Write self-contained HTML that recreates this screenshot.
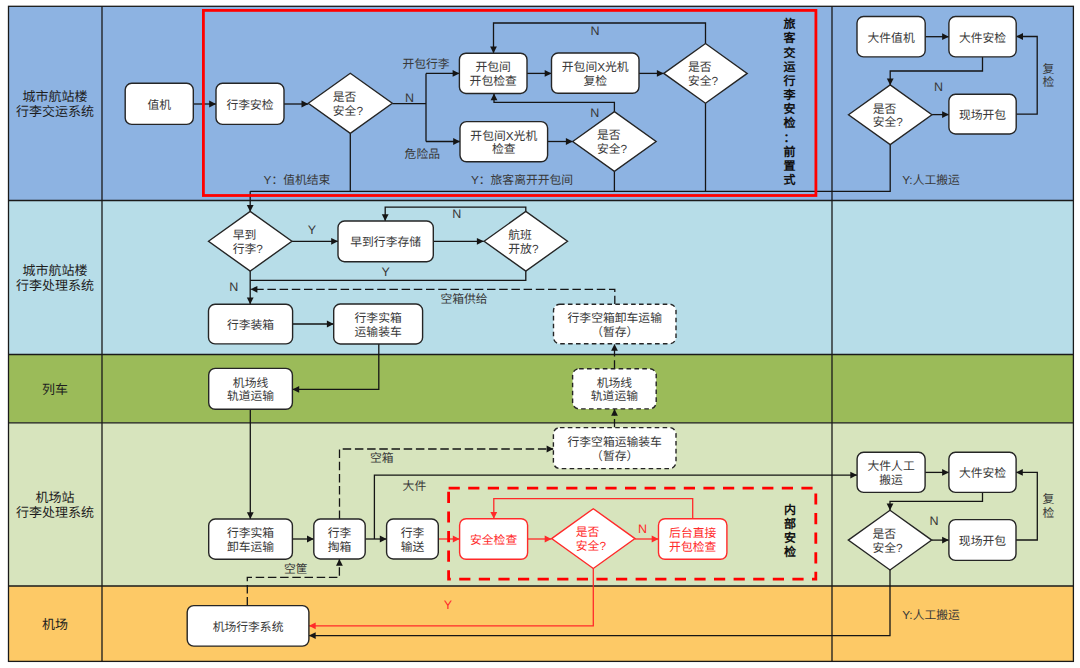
<!DOCTYPE html>
<html lang="zh-CN"><head><meta charset="utf-8"><style>
html,body{margin:0;padding:0;background:#fff;width:1080px;height:668px;overflow:hidden}
svg{display:block;font-family:"Liberation Sans", sans-serif;text-rendering:geometricPrecision}
</style></head><body>
<svg width="1080" height="668" viewBox="0 0 1080 668">
<rect x="8.5" y="6.3" width="1064.9" height="194.2" fill="#8db3e2"/>
<rect x="8.5" y="200.5" width="1064.9" height="154.0" fill="#b7dde8"/>
<rect x="8.5" y="354.5" width="1064.9" height="68.3" fill="#9bbb59"/>
<rect x="8.5" y="422.8" width="1064.9" height="163.2" fill="#d7e4bd"/>
<rect x="8.5" y="586" width="1064.9" height="75.4" fill="#fdc966"/>
<rect x="8.5" y="6.3" width="1064.9" height="655.1" fill="none" stroke="#1a1a1a" stroke-width="1.3"/>
<line x1="102" y1="6.3" x2="102" y2="661.4" stroke="#1a1a1a" stroke-width="1.3"/>
<line x1="832" y1="6.3" x2="832" y2="661.4" stroke="#1a1a1a" stroke-width="1.3"/>
<line x1="8.5" y1="200.5" x2="1073.4" y2="200.5" stroke="#1a1a1a" stroke-width="1.3"/>
<line x1="8.5" y1="354.5" x2="1073.4" y2="354.5" stroke="#1a1a1a" stroke-width="1.3"/>
<line x1="8.5" y1="422.8" x2="1073.4" y2="422.8" stroke="#1a1a1a" stroke-width="1.3"/>
<line x1="8.5" y1="586" x2="1073.4" y2="586" stroke="#1a1a1a" stroke-width="1.3"/>
<path d="M193.3,104 L216,104" fill="none" stroke="#151515" stroke-width="1.3"/>
<path d="M216.00,104.00 L209.20,100.60 L209.20,107.40Z" fill="#151515"/>
<path d="M284,104 L308.3,104" fill="none" stroke="#151515" stroke-width="1.3"/>
<path d="M308.30,104.00 L301.50,100.60 L301.50,107.40Z" fill="#151515"/>
<path d="M392.3,103.6 L426,103.6" fill="none" stroke="#151515" stroke-width="1.3"/>
<path d="M426,73.4 L426,141.5" fill="none" stroke="#151515" stroke-width="1.3"/>
<path d="M426,73.4 L459.4,73.4" fill="none" stroke="#151515" stroke-width="1.3"/>
<path d="M459.40,73.40 L452.60,70.00 L452.60,76.80Z" fill="#151515"/>
<path d="M426,141.5 L460,141.5" fill="none" stroke="#151515" stroke-width="1.3"/>
<path d="M460.00,141.50 L453.20,138.10 L453.20,144.90Z" fill="#151515"/>
<path d="M527,73.4 L551.5,73.4" fill="none" stroke="#151515" stroke-width="1.3"/>
<path d="M551.50,73.40 L544.70,70.00 L544.70,76.80Z" fill="#151515"/>
<path d="M639,73.4 L663.7,73.4" fill="none" stroke="#151515" stroke-width="1.3"/>
<path d="M663.70,73.40 L656.90,70.00 L656.90,76.80Z" fill="#151515"/>
<path d="M705.5,43.6 L705.5,23 L493.5,23 L493.5,53.2" fill="none" stroke="#151515" stroke-width="1.3"/>
<path d="M493.50,53.20 L490.10,46.40 L496.90,46.40Z" fill="#151515"/>
<path d="M547.6,141.5 L572.7,141.5" fill="none" stroke="#151515" stroke-width="1.3"/>
<path d="M572.70,141.50 L565.90,138.10 L565.90,144.90Z" fill="#151515"/>
<path d="M614.4,112 L614.4,102.4 L494,102.4 L494,93.5" fill="none" stroke="#151515" stroke-width="1.3"/>
<path d="M494.00,93.50 L490.60,100.30 L497.40,100.30Z" fill="#151515"/>
<path d="M350.3,133.3 L350.3,191.3" fill="none" stroke="#151515" stroke-width="1.3"/>
<path d="M614.4,171 L614.4,191.3" fill="none" stroke="#151515" stroke-width="1.3"/>
<path d="M705.5,103 L705.5,191.3" fill="none" stroke="#151515" stroke-width="1.3"/>
<path d="M890.2,144.3 L890.2,191.3 L250.2,191.3" fill="none" stroke="#151515" stroke-width="1.3"/>
<path d="M250.2,191.3 L250.2,211.7" fill="none" stroke="#151515" stroke-width="1.3"/>
<path d="M250.20,211.70 L246.80,204.90 L253.60,204.90Z" fill="#151515"/>
<path d="M925.2,36.7 L948.9,36.7" fill="none" stroke="#151515" stroke-width="1.3"/>
<path d="M948.90,36.70 L942.10,33.30 L942.10,40.10Z" fill="#151515"/>
<path d="M982.5,56.9 L982.5,71 L890.2,71 L890.2,85.3" fill="none" stroke="#151515" stroke-width="1.3"/>
<path d="M890.20,85.30 L886.80,78.50 L893.60,78.50Z" fill="#151515"/>
<path d="M931.8,114.6 L948.9,114.6" fill="none" stroke="#151515" stroke-width="1.3"/>
<path d="M948.90,114.60 L942.10,111.20 L942.10,118.00Z" fill="#151515"/>
<path d="M1016.2,114.2 L1037.2,114.2 L1037.2,36.5 L1016.2,36.5" fill="none" stroke="#151515" stroke-width="1.3"/>
<path d="M1016.20,36.50 L1023.00,33.10 L1023.00,39.90Z" fill="#151515"/>
<path d="M291.9,241.3 L338,241.3" fill="none" stroke="#151515" stroke-width="1.3"/>
<path d="M338.00,241.30 L331.20,237.90 L331.20,244.70Z" fill="#151515"/>
<path d="M433.3,241.3 L483.7,241.3" fill="none" stroke="#151515" stroke-width="1.3"/>
<path d="M483.70,241.30 L476.90,237.90 L476.90,244.70Z" fill="#151515"/>
<path d="M525.8,211.7 L525.8,207.2 L385.2,207.2 L385.2,221" fill="none" stroke="#151515" stroke-width="1.3"/>
<path d="M385.20,221.00 L381.80,214.20 L388.60,214.20Z" fill="#151515"/>
<path d="M525.8,271 L525.8,280.4 L250.2,280.4" fill="none" stroke="#151515" stroke-width="1.3"/>
<path d="M250.2,271 L250.2,304.3" fill="none" stroke="#151515" stroke-width="1.3"/>
<path d="M250.20,304.30 L246.80,297.50 L253.60,297.50Z" fill="#151515"/>
<path d="M614.8,304.2 L614.8,289.3 L250.6,289.3" fill="none" stroke="#151515" stroke-width="1.3" stroke-dasharray="8.5 3.7"/>
<path d="M250.60,289.30 L257.40,285.90 L257.40,292.70Z" fill="#151515"/>
<path d="M292.6,324 L333.7,324" fill="none" stroke="#151515" stroke-width="1.3"/>
<path d="M333.70,324.00 L326.90,320.60 L326.90,327.40Z" fill="#151515"/>
<path d="M378.8,344 L378.8,389.4 L292.4,389.4" fill="none" stroke="#151515" stroke-width="1.3"/>
<path d="M292.40,389.40 L299.20,386.00 L299.20,392.80Z" fill="#151515"/>
<path d="M614.5,368.7 L614.5,344" fill="none" stroke="#151515" stroke-width="1.3" stroke-dasharray="8.5 3.7"/>
<path d="M614.50,344.00 L611.10,350.80 L617.90,350.80Z" fill="#151515"/>
<path d="M614.5,427.6 L614.5,409" fill="none" stroke="#151515" stroke-width="1.3" stroke-dasharray="8.5 3.7"/>
<path d="M614.50,409.00 L611.10,415.80 L617.90,415.80Z" fill="#151515"/>
<path d="M250.3,409.3 L250.3,519" fill="none" stroke="#151515" stroke-width="1.3"/>
<path d="M250.30,519.00 L246.90,512.20 L253.70,512.20Z" fill="#151515"/>
<path d="M292.4,539 L313.8,539" fill="none" stroke="#151515" stroke-width="1.3"/>
<path d="M313.80,539.00 L307.00,535.60 L307.00,542.40Z" fill="#151515"/>
<path d="M365.2,539 L386.6,539" fill="none" stroke="#151515" stroke-width="1.3"/>
<path d="M386.60,539.00 L379.80,535.60 L379.80,542.40Z" fill="#151515"/>
<path d="M374.4,539 L374.4,475.1 L857.1,475.1" fill="none" stroke="#151515" stroke-width="1.3"/>
<path d="M857.10,475.10 L850.30,471.70 L850.30,478.50Z" fill="#151515"/>
<path d="M339.5,519 L339.5,449 L553.4,449" fill="none" stroke="#151515" stroke-width="1.3" stroke-dasharray="8.5 3.7"/>
<path d="M553.40,449.00 L546.60,445.60 L546.60,452.40Z" fill="#151515"/>
<path d="M247.3,605.6 L247.3,577.4 L339.4,577.4 L339.4,559" fill="none" stroke="#151515" stroke-width="1.3" stroke-dasharray="8.5 3.7"/>
<path d="M339.40,559.00 L336.00,565.80 L342.80,565.80Z" fill="#151515"/>
<path d="M438.3,539 L459.6,539" fill="none" stroke="#ff2a2a" stroke-width="1.3"/>
<path d="M459.60,539.00 L452.80,535.60 L452.80,542.40Z" fill="#ff2a2a"/>
<path d="M527.6,539 L551.5,539" fill="none" stroke="#ff2a2a" stroke-width="1.3"/>
<path d="M551.50,539.00 L544.70,535.60 L544.70,542.40Z" fill="#ff2a2a"/>
<path d="M635,539 L658.5,539" fill="none" stroke="#ff2a2a" stroke-width="1.3"/>
<path d="M658.50,539.00 L651.70,535.60 L651.70,542.40Z" fill="#ff2a2a"/>
<path d="M692.7,518.7 L692.7,498.6 L493.8,498.6 L493.8,518.7" fill="none" stroke="#ff2a2a" stroke-width="1.3"/>
<path d="M493.80,518.70 L490.40,511.90 L497.20,511.90Z" fill="#ff2a2a"/>
<path d="M593.3,568 L593.3,625.8 L308.9,625.8" fill="none" stroke="#ff2a2a" stroke-width="1.3"/>
<path d="M308.90,625.80 L315.70,622.40 L315.70,629.20Z" fill="#ff2a2a"/>
<path d="M890,570 L890,635.6 L308.9,635.6" fill="none" stroke="#151515" stroke-width="1.3"/>
<path d="M308.90,635.60 L315.70,632.20 L315.70,639.00Z" fill="#151515"/>
<path d="M925.1,472.4 L948.9,472.4" fill="none" stroke="#151515" stroke-width="1.3"/>
<path d="M948.90,472.40 L942.10,469.00 L942.10,475.80Z" fill="#151515"/>
<path d="M982.5,492.4 L982.5,501.4 L890,501.4 L890,510.3" fill="none" stroke="#151515" stroke-width="1.3"/>
<path d="M890.00,510.30 L886.60,503.50 L893.40,503.50Z" fill="#151515"/>
<path d="M931.7,540.1 L948.9,540.1" fill="none" stroke="#151515" stroke-width="1.3"/>
<path d="M948.90,540.10 L942.10,536.70 L942.10,543.50Z" fill="#151515"/>
<path d="M1016,540 L1037.3,540 L1037.3,472.4 L1016,472.4" fill="none" stroke="#151515" stroke-width="1.3"/>
<path d="M1016.00,472.40 L1022.80,469.00 L1022.80,475.80Z" fill="#151515"/>
<rect x="203.4" y="10.4" width="612.5" height="185.1" fill="none" stroke="#ff0000" stroke-width="2.8"/>
<rect x="448.6" y="488.2" width="367.19999999999993" height="91.00000000000006" fill="none" stroke="#ff0000" stroke-width="2.8" stroke-dasharray="11.2 8.4"/>
<rect x="125.2" y="83.3" width="68.10" height="41.10" rx="6.5" ry="6.5" fill="#fff" stroke="#252525" stroke-width="1.4"/>
<rect x="216" y="83.3" width="68.00" height="41.10" rx="6.5" ry="6.5" fill="#fff" stroke="#252525" stroke-width="1.4"/>
<rect x="459.4" y="53.2" width="67.60" height="40.30" rx="6.5" ry="6.5" fill="#fff" stroke="#252525" stroke-width="1.4"/>
<rect x="551.5" y="53" width="87.50" height="40.30" rx="6.5" ry="6.5" fill="#fff" stroke="#252525" stroke-width="1.4"/>
<rect x="460" y="121.6" width="87.60" height="40.20" rx="6.5" ry="6.5" fill="#fff" stroke="#252525" stroke-width="1.4"/>
<rect x="857" y="16.5" width="68.20" height="40.40" rx="6.5" ry="6.5" fill="#fff" stroke="#252525" stroke-width="1.4"/>
<rect x="948.9" y="16.5" width="67.30" height="40.40" rx="6.5" ry="6.5" fill="#fff" stroke="#252525" stroke-width="1.4"/>
<rect x="948.9" y="94.3" width="67.30" height="39.70" rx="6.5" ry="6.5" fill="#fff" stroke="#252525" stroke-width="1.4"/>
<path d="M308.3,103.3 L350.3,73.3 L392.3,103.3 L350.3,133.3Z" fill="#fff" stroke="#252525" stroke-width="1.4"/>
<path d="M663.8,73.4 L705.5,43.550000000000004 L747.2,73.4 L705.5,103.25Z" fill="#fff" stroke="#252525" stroke-width="1.4"/>
<path d="M572.6999999999999,141.5 L614.4,111.65 L656.1,141.5 L614.4,171.35Z" fill="#fff" stroke="#252525" stroke-width="1.4"/>
<path d="M848.5,114.8 L890.2,84.94999999999999 L931.9000000000001,114.8 L890.2,144.65Z" fill="#fff" stroke="#252525" stroke-width="1.4"/>
<path d="M208.5,241.3 L250.2,211.45000000000002 L291.9,241.3 L250.2,271.15000000000003Z" fill="#fff" stroke="#252525" stroke-width="1.4"/>
<rect x="338" y="221" width="95.30" height="40.70" rx="6.5" ry="6.5" fill="#fff" stroke="#252525" stroke-width="1.4"/>
<path d="M484.09999999999997,241.3 L525.8,211.45000000000002 L567.5,241.3 L525.8,271.15000000000003Z" fill="#fff" stroke="#252525" stroke-width="1.4"/>
<rect x="208.5" y="304.3" width="84.10" height="39.60" rx="6.5" ry="6.5" fill="#fff" stroke="#252525" stroke-width="1.4"/>
<rect x="333.7" y="304" width="88.90" height="40.00" rx="6.5" ry="6.5" fill="#fff" stroke="#252525" stroke-width="1.4"/>
<rect x="553.5" y="304.2" width="122.50" height="39.60" rx="6.5" ry="6.5" fill="#fff" stroke="#252525" stroke-width="1.4" stroke-dasharray="4.6 3.3"/>
<rect x="208.7" y="368.4" width="83.70" height="40.90" rx="6.5" ry="6.5" fill="#fff" stroke="#252525" stroke-width="1.4"/>
<rect x="572.6" y="368.7" width="83.60" height="40.20" rx="6.5" ry="6.5" fill="#fff" stroke="#252525" stroke-width="1.4" stroke-dasharray="4.6 3.3"/>
<rect x="553.4" y="427.6" width="122.60" height="41.00" rx="6.5" ry="6.5" fill="#fff" stroke="#252525" stroke-width="1.4" stroke-dasharray="4.6 3.3"/>
<rect x="208.7" y="519" width="83.70" height="40.20" rx="6.5" ry="6.5" fill="#fff" stroke="#252525" stroke-width="1.4"/>
<rect x="313.8" y="519" width="51.40" height="40.00" rx="6.5" ry="6.5" fill="#fff" stroke="#252525" stroke-width="1.4"/>
<rect x="386.6" y="519" width="51.70" height="40.00" rx="6.5" ry="6.5" fill="#fff" stroke="#252525" stroke-width="1.4"/>
<rect x="459.6" y="518.7" width="68.00" height="40.60" rx="6.5" ry="6.5" fill="#fff" stroke="#ff2a2a" stroke-width="1.4"/>
<path d="M551.5999999999999,538.6 L593.3,508.75 L635.0,538.6 L593.3,568.45Z" fill="#fff" stroke="#ff2a2a" stroke-width="1.4"/>
<rect x="658.5" y="518.7" width="68.40" height="40.60" rx="6.5" ry="6.5" fill="#fff" stroke="#ff2a2a" stroke-width="1.4"/>
<rect x="857.1" y="452.3" width="68.00" height="40.10" rx="6.5" ry="6.5" fill="#fff" stroke="#252525" stroke-width="1.4"/>
<rect x="948.9" y="452.3" width="67.20" height="40.10" rx="6.5" ry="6.5" fill="#fff" stroke="#252525" stroke-width="1.4"/>
<rect x="948.9" y="519.6" width="67.10" height="40.80" rx="6.5" ry="6.5" fill="#fff" stroke="#252525" stroke-width="1.4"/>
<path d="M848.3,540.1 L890,510.25 L931.7,540.1 L890,569.95Z" fill="#fff" stroke="#252525" stroke-width="1.4"/>
<rect x="187.2" y="605.6" width="121.70" height="40.50" rx="6.5" ry="6.5" fill="#fff" stroke="#252525" stroke-width="1.4"/>
<text x="55" y="96" font-size="13" fill="#1e1e1e" font-weight="normal" text-anchor="middle" dominant-baseline="central">城市航站楼</text>
<text x="55" y="111" font-size="13" fill="#1e1e1e" font-weight="normal" text-anchor="middle" dominant-baseline="central">行李交运系统</text>
<text x="55" y="270.5" font-size="13" fill="#1e1e1e" font-weight="normal" text-anchor="middle" dominant-baseline="central">城市航站楼</text>
<text x="55" y="285.5" font-size="13" fill="#1e1e1e" font-weight="normal" text-anchor="middle" dominant-baseline="central">行李处理系统</text>
<text x="55" y="389" font-size="13" fill="#1e1e1e" font-weight="normal" text-anchor="middle" dominant-baseline="central">列车</text>
<text x="55" y="497" font-size="13" fill="#1e1e1e" font-weight="normal" text-anchor="middle" dominant-baseline="central">机场站</text>
<text x="55" y="512.6" font-size="13" fill="#1e1e1e" font-weight="normal" text-anchor="middle" dominant-baseline="central">行李处理系统</text>
<text x="55" y="624" font-size="13" fill="#1e1e1e" font-weight="normal" text-anchor="middle" dominant-baseline="central">机场</text>
<text x="159.25" y="104.64999999999999" font-size="11.8" fill="#383838" font-weight="normal" text-anchor="middle" dominant-baseline="central">值机</text>
<text x="250.0" y="104.64999999999999" font-size="11.8" fill="#383838" font-weight="normal" text-anchor="middle" dominant-baseline="central">行李安检</text>
<text x="493.2" y="67.39999999999999" font-size="11.8" fill="#383838" font-weight="normal" text-anchor="middle" dominant-baseline="central">开包间</text>
<text x="493.2" y="80.89999999999999" font-size="11.8" fill="#383838" font-weight="normal" text-anchor="middle" dominant-baseline="central">开包检查</text>
<text x="595.25" y="67.2" font-size="11.8" fill="#383838" font-weight="normal" text-anchor="middle" dominant-baseline="central">开包间X光机</text>
<text x="595.25" y="80.7" font-size="11.8" fill="#383838" font-weight="normal" text-anchor="middle" dominant-baseline="central">复检</text>
<text x="503.8" y="135.75" font-size="11.8" fill="#383838" font-weight="normal" text-anchor="middle" dominant-baseline="central">开包间X光机</text>
<text x="503.8" y="149.25" font-size="11.8" fill="#383838" font-weight="normal" text-anchor="middle" dominant-baseline="central">检查</text>
<text x="891.1" y="37.5" font-size="11.8" fill="#383838" font-weight="normal" text-anchor="middle" dominant-baseline="central">大件值机</text>
<text x="982.55" y="37.5" font-size="11.8" fill="#383838" font-weight="normal" text-anchor="middle" dominant-baseline="central">大件安检</text>
<text x="982.55" y="114.95" font-size="11.8" fill="#383838" font-weight="normal" text-anchor="middle" dominant-baseline="central">现场开包</text>
<text x="332.8" y="97.1" font-size="11.8" fill="#383838" font-weight="normal" text-anchor="start" dominant-baseline="central">是否</text>
<text x="332.8" y="110.69999999999999" font-size="11.8" fill="#383838" font-weight="normal" text-anchor="start" dominant-baseline="central">安全?</text>
<text x="688.0" y="67.2" font-size="11.8" fill="#383838" font-weight="normal" text-anchor="start" dominant-baseline="central">是否</text>
<text x="688.0" y="80.8" font-size="11.8" fill="#383838" font-weight="normal" text-anchor="start" dominant-baseline="central">安全?</text>
<text x="596.9" y="135.29999999999998" font-size="11.8" fill="#383838" font-weight="normal" text-anchor="start" dominant-baseline="central">是否</text>
<text x="596.9" y="148.9" font-size="11.8" fill="#383838" font-weight="normal" text-anchor="start" dominant-baseline="central">安全?</text>
<text x="872.7" y="108.6" font-size="11.8" fill="#383838" font-weight="normal" text-anchor="start" dominant-baseline="central">是否</text>
<text x="872.7" y="122.19999999999999" font-size="11.8" fill="#383838" font-weight="normal" text-anchor="start" dominant-baseline="central">安全?</text>
<text x="232.7" y="235.1" font-size="11.8" fill="#383838" font-weight="normal" text-anchor="start" dominant-baseline="central">早到</text>
<text x="232.7" y="248.70000000000002" font-size="11.8" fill="#383838" font-weight="normal" text-anchor="start" dominant-baseline="central">行李?</text>
<text x="385.65" y="242.15" font-size="11.8" fill="#383838" font-weight="normal" text-anchor="middle" dominant-baseline="central">早到行李存储</text>
<text x="508.29999999999995" y="235.1" font-size="11.8" fill="#383838" font-weight="normal" text-anchor="start" dominant-baseline="central">航班</text>
<text x="508.29999999999995" y="248.70000000000002" font-size="11.8" fill="#383838" font-weight="normal" text-anchor="start" dominant-baseline="central">开放?</text>
<text x="250.55" y="324.90000000000003" font-size="11.8" fill="#383838" font-weight="normal" text-anchor="middle" dominant-baseline="central">行李装箱</text>
<text x="378.15" y="318.05" font-size="11.8" fill="#383838" font-weight="normal" text-anchor="middle" dominant-baseline="central">行李实箱</text>
<text x="378.15" y="331.55" font-size="11.8" fill="#383838" font-weight="normal" text-anchor="middle" dominant-baseline="central">运输装车</text>
<text x="614.75" y="318.05" font-size="11.8" fill="#383838" font-weight="normal" text-anchor="middle" dominant-baseline="central">行李空箱卸车运输</text>
<text x="614.75" y="331.55" font-size="11.8" fill="#383838" font-weight="normal" text-anchor="middle" dominant-baseline="central">（暂存）</text>
<text x="250.54999999999998" y="382.90000000000003" font-size="11.8" fill="#383838" font-weight="normal" text-anchor="middle" dominant-baseline="central">机场线</text>
<text x="250.54999999999998" y="396.40000000000003" font-size="11.8" fill="#383838" font-weight="normal" text-anchor="middle" dominant-baseline="central">轨道运输</text>
<text x="614.4000000000001" y="382.84999999999997" font-size="11.8" fill="#383838" font-weight="normal" text-anchor="middle" dominant-baseline="central">机场线</text>
<text x="614.4000000000001" y="396.34999999999997" font-size="11.8" fill="#383838" font-weight="normal" text-anchor="middle" dominant-baseline="central">轨道运输</text>
<text x="614.7" y="442.15000000000003" font-size="11.8" fill="#383838" font-weight="normal" text-anchor="middle" dominant-baseline="central">行李空箱运输装车</text>
<text x="614.7" y="455.65000000000003" font-size="11.8" fill="#383838" font-weight="normal" text-anchor="middle" dominant-baseline="central">（暂存）</text>
<text x="250.54999999999998" y="533.15" font-size="11.8" fill="#383838" font-weight="normal" text-anchor="middle" dominant-baseline="central">行李实箱</text>
<text x="250.54999999999998" y="546.65" font-size="11.8" fill="#383838" font-weight="normal" text-anchor="middle" dominant-baseline="central">卸车运输</text>
<text x="339.5" y="533.05" font-size="11.8" fill="#383838" font-weight="normal" text-anchor="middle" dominant-baseline="central">行李</text>
<text x="339.5" y="546.55" font-size="11.8" fill="#383838" font-weight="normal" text-anchor="middle" dominant-baseline="central">掏箱</text>
<text x="412.45000000000005" y="533.05" font-size="11.8" fill="#383838" font-weight="normal" text-anchor="middle" dominant-baseline="central">行李</text>
<text x="412.45000000000005" y="546.55" font-size="11.8" fill="#383838" font-weight="normal" text-anchor="middle" dominant-baseline="central">输送</text>
<text x="493.6" y="539.8" font-size="11.8" fill="#ff2a2a" font-weight="normal" text-anchor="middle" dominant-baseline="central">安全检查</text>
<text x="575.8" y="532.4000000000001" font-size="11.8" fill="#ff2a2a" font-weight="normal" text-anchor="start" dominant-baseline="central">是否</text>
<text x="575.8" y="546.0" font-size="11.8" fill="#ff2a2a" font-weight="normal" text-anchor="start" dominant-baseline="central">安全?</text>
<text x="692.7" y="533.05" font-size="11.8" fill="#ff2a2a" font-weight="normal" text-anchor="middle" dominant-baseline="central">后台直接</text>
<text x="692.7" y="546.55" font-size="11.8" fill="#ff2a2a" font-weight="normal" text-anchor="middle" dominant-baseline="central">开包检查</text>
<text x="891.1" y="466.40000000000003" font-size="11.8" fill="#383838" font-weight="normal" text-anchor="middle" dominant-baseline="central">大件人工</text>
<text x="891.1" y="479.90000000000003" font-size="11.8" fill="#383838" font-weight="normal" text-anchor="middle" dominant-baseline="central">搬运</text>
<text x="982.5" y="473.15000000000003" font-size="11.8" fill="#383838" font-weight="normal" text-anchor="middle" dominant-baseline="central">大件安检</text>
<text x="982.45" y="540.8" font-size="11.8" fill="#383838" font-weight="normal" text-anchor="middle" dominant-baseline="central">现场开包</text>
<text x="872.5" y="533.9000000000001" font-size="11.8" fill="#383838" font-weight="normal" text-anchor="start" dominant-baseline="central">是否</text>
<text x="872.5" y="547.5" font-size="11.8" fill="#383838" font-weight="normal" text-anchor="start" dominant-baseline="central">安全?</text>
<text x="248.04999999999998" y="626.65" font-size="11.8" fill="#383838" font-weight="normal" text-anchor="middle" dominant-baseline="central">机场行李系统</text>
<text x="426" y="64" font-size="11.8" fill="#383838" font-weight="normal" text-anchor="middle" dominant-baseline="central">开包行李</text>
<text x="409.5" y="97.6" font-size="12.5" fill="#383838" font-weight="normal" text-anchor="middle" dominant-baseline="central">N</text>
<text x="422.3" y="153.6" font-size="11.8" fill="#383838" font-weight="normal" text-anchor="middle" dominant-baseline="central">危险品</text>
<text x="297" y="179.5" font-size="11.8" fill="#383838" font-weight="normal" text-anchor="middle" dominant-baseline="central">Y：值机结束</text>
<text x="522" y="180.2" font-size="11.8" fill="#383838" font-weight="normal" text-anchor="middle" dominant-baseline="central">Y：旅客离开开包间</text>
<text x="595" y="31" font-size="12.5" fill="#383838" font-weight="normal" text-anchor="middle" dominant-baseline="central">N</text>
<text x="594.8" y="112.8" font-size="12.5" fill="#383838" font-weight="normal" text-anchor="middle" dominant-baseline="central">N</text>
<text x="789.5" y="24.3" font-size="12" fill="#111" font-weight="900" text-anchor="middle" dominant-baseline="central">旅</text>
<text x="789.5" y="38.45" font-size="12" fill="#111" font-weight="900" text-anchor="middle" dominant-baseline="central">客</text>
<text x="789.5" y="52.6" font-size="12" fill="#111" font-weight="900" text-anchor="middle" dominant-baseline="central">交</text>
<text x="789.5" y="66.75" font-size="12" fill="#111" font-weight="900" text-anchor="middle" dominant-baseline="central">运</text>
<text x="789.5" y="80.9" font-size="12" fill="#111" font-weight="900" text-anchor="middle" dominant-baseline="central">行</text>
<text x="789.5" y="95.05" font-size="12" fill="#111" font-weight="900" text-anchor="middle" dominant-baseline="central">李</text>
<text x="789.5" y="109.2" font-size="12" fill="#111" font-weight="900" text-anchor="middle" dominant-baseline="central">安</text>
<text x="789.5" y="123.35" font-size="12" fill="#111" font-weight="900" text-anchor="middle" dominant-baseline="central">检</text>
<text x="789.5" y="137.5" font-size="12" fill="#111" font-weight="900" text-anchor="middle" dominant-baseline="central">：</text>
<text x="789.5" y="151.65" font-size="12" fill="#111" font-weight="900" text-anchor="middle" dominant-baseline="central">前</text>
<text x="789.5" y="165.8" font-size="12" fill="#111" font-weight="900" text-anchor="middle" dominant-baseline="central">置</text>
<text x="789.5" y="179.95000000000002" font-size="12" fill="#111" font-weight="900" text-anchor="middle" dominant-baseline="central">式</text>
<text x="938.4" y="86.8" font-size="12.5" fill="#383838" font-weight="normal" text-anchor="middle" dominant-baseline="central">N</text>
<text x="1048.5" y="68.6" font-size="11.8" fill="#383838" font-weight="normal" text-anchor="middle" dominant-baseline="central">复</text>
<text x="1048.5" y="82.2" font-size="11.8" fill="#383838" font-weight="normal" text-anchor="middle" dominant-baseline="central">检</text>
<text x="931" y="179.6" font-size="11.8" fill="#383838" font-weight="normal" text-anchor="middle" dominant-baseline="central">Y:人工搬运</text>
<text x="312" y="230" font-size="12.5" fill="#383838" font-weight="normal" text-anchor="middle" dominant-baseline="central">Y</text>
<text x="456.7" y="213.5" font-size="12.5" fill="#383838" font-weight="normal" text-anchor="middle" dominant-baseline="central">N</text>
<text x="385.6" y="272" font-size="12.5" fill="#383838" font-weight="normal" text-anchor="middle" dominant-baseline="central">Y</text>
<text x="233.7" y="286.9" font-size="12.5" fill="#383838" font-weight="normal" text-anchor="middle" dominant-baseline="central">N</text>
<text x="464" y="298.7" font-size="11.8" fill="#383838" font-weight="normal" text-anchor="middle" dominant-baseline="central">空箱供给</text>
<text x="381.7" y="458" font-size="11.8" fill="#383838" font-weight="normal" text-anchor="middle" dominant-baseline="central">空箱</text>
<text x="414.4" y="486" font-size="11.8" fill="#383838" font-weight="normal" text-anchor="middle" dominant-baseline="central">大件</text>
<text x="295.7" y="568.6" font-size="11.8" fill="#383838" font-weight="normal" text-anchor="middle" dominant-baseline="central">空筐</text>
<text x="642.6" y="529" font-size="12.5" fill="#ff2a2a" font-weight="normal" text-anchor="middle" dominant-baseline="central">N</text>
<text x="790" y="510.0" font-size="12" fill="#111" font-weight="900" text-anchor="middle" dominant-baseline="central">内</text>
<text x="790" y="523.9" font-size="12" fill="#111" font-weight="900" text-anchor="middle" dominant-baseline="central">部</text>
<text x="790" y="537.8" font-size="12" fill="#111" font-weight="900" text-anchor="middle" dominant-baseline="central">安</text>
<text x="790" y="551.7" font-size="12" fill="#111" font-weight="900" text-anchor="middle" dominant-baseline="central">检</text>
<text x="934" y="521" font-size="12.5" fill="#383838" font-weight="normal" text-anchor="middle" dominant-baseline="central">N</text>
<text x="1048.5" y="499" font-size="11.8" fill="#383838" font-weight="normal" text-anchor="middle" dominant-baseline="central">复</text>
<text x="1048.5" y="512.6" font-size="11.8" fill="#383838" font-weight="normal" text-anchor="middle" dominant-baseline="central">检</text>
<text x="447.8" y="605" font-size="12.5" fill="#ff2a2a" font-weight="normal" text-anchor="middle" dominant-baseline="central">Y</text>
<text x="931" y="615" font-size="11.8" fill="#383838" font-weight="normal" text-anchor="middle" dominant-baseline="central">Y:人工搬运</text>
</svg></body></html>
